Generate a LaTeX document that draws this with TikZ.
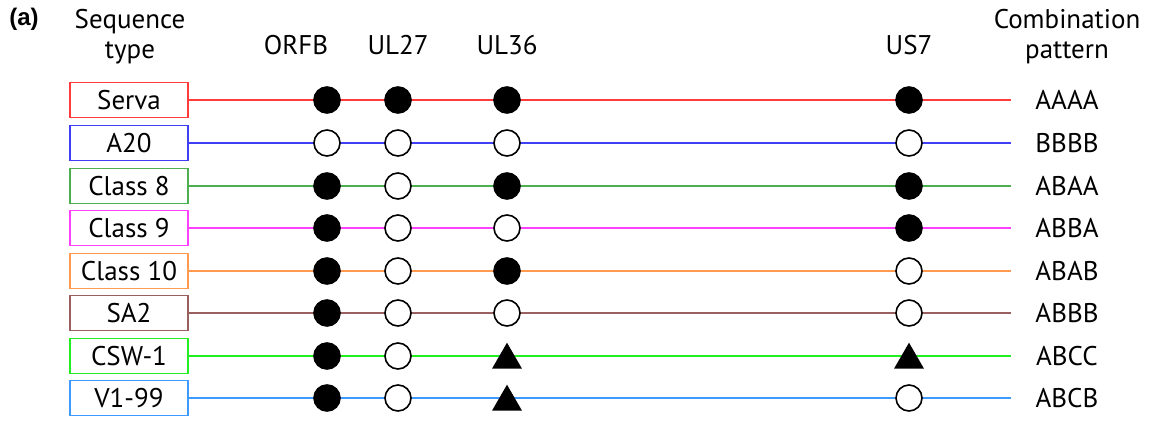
\documentclass[tikz,border=0pt]{standalone}
\usepackage{fontspec}
\usetikzlibrary{shapes.geometric}
\setmainfont{PT Sans}
\newfontfamily\boldsans{Liberation Sans}
\definecolor{cred}{HTML}{FF3B3B}
\definecolor{cblue}{HTML}{3F3FF5}
\definecolor{cgreen}{HTML}{4CAF50}
\definecolor{cmag}{HTML}{FF40FF}
\definecolor{corange}{HTML}{FF9A50}
\definecolor{cbrown}{HTML}{9A6060}
\definecolor{clime}{HTML}{22EE22}
\definecolor{clblue}{HTML}{3F9AFF}
\begin{document}
\begin{tikzpicture}[x=1pt,y=-1pt,
  every node/.style={font=\fontsize{27}{30}\selectfont},
  seqbox/.style={draw=#1, line width=1.6pt, minimum width=118pt, minimum height=35pt, inner sep=0pt, fill=white},
  seqline/.style={draw=#1, line width=1.3pt},
  fullmark/.style={circle, fill=black, draw=black, line width=1.6pt, minimum size=26pt, inner sep=0pt},
  openmark/.style={circle, fill=white, draw=black, line width=1.6pt, minimum size=26pt, inner sep=0pt},
  trimark/.style={regular polygon, regular polygon sides=3, fill=black, inner sep=0pt, minimum size=34.6pt, yshift=-4pt},
  header/.style={align=center, font=\fontsize{27}{30}\selectfont},
  pat/.style={anchor=center}
]
\useasboundingbox (0,0) rectangle (1150,420);
\node[font=\boldsans\bfseries\fontsize{24}{28}\selectfont] (lab) at (24,19) {(a)};
\node[header] (hseq) at (130,37) {Sequence\\type};
\node[header] (hcomb) at (1067,37) {Combination\\pattern};
\node (hORFB) at (296,45) {ORFB};
\node (hUL27) at (398,45) {UL27};
\node (hUL36) at (507,45) {UL36};
\node (hUS7) at (909,45) {US7};

\foreach \n/\t/\y/\c/\ma/\mb/\mc/\md/\p in {
  r1/Serva/100/cred/fullmark/fullmark/fullmark/fullmark/AAAA,
  r2/A20/143/cblue/openmark/openmark/openmark/openmark/BBBB,
  r3/Class 8/186/cgreen/fullmark/openmark/fullmark/fullmark/ABAA,
  r4/Class 9/228/cmag/fullmark/openmark/openmark/fullmark/ABBA,
  r5/Class 10/271/corange/fullmark/openmark/fullmark/openmark/ABAB,
  r6/SA2/313/cbrown/fullmark/openmark/openmark/openmark/ABBB,
  r7/CSW-1/356/clime/fullmark/openmark/trimark/trimark/ABCC,
  r8/V1-99/398/clblue/fullmark/openmark/trimark/openmark/ABCB}{
  \node[seqbox=\c] (\n box) at (129,\y) {\t};
  \coordinate (\n end) at (1011,\y);
  \draw[seqline=\c] (\n box.east) -- (\n end);
  \node[\ma] (\n a) at (327,\y) {};
  \node[\mb] (\n b) at (398,\y) {};
  \node[\mc] (\n c) at (507,\y) {};
  \node[\md] (\n d) at (909,\y) {};
  \node[pat] (\n pat) at (1067,\y) {\p};
}
\end{tikzpicture}
\end{document}
